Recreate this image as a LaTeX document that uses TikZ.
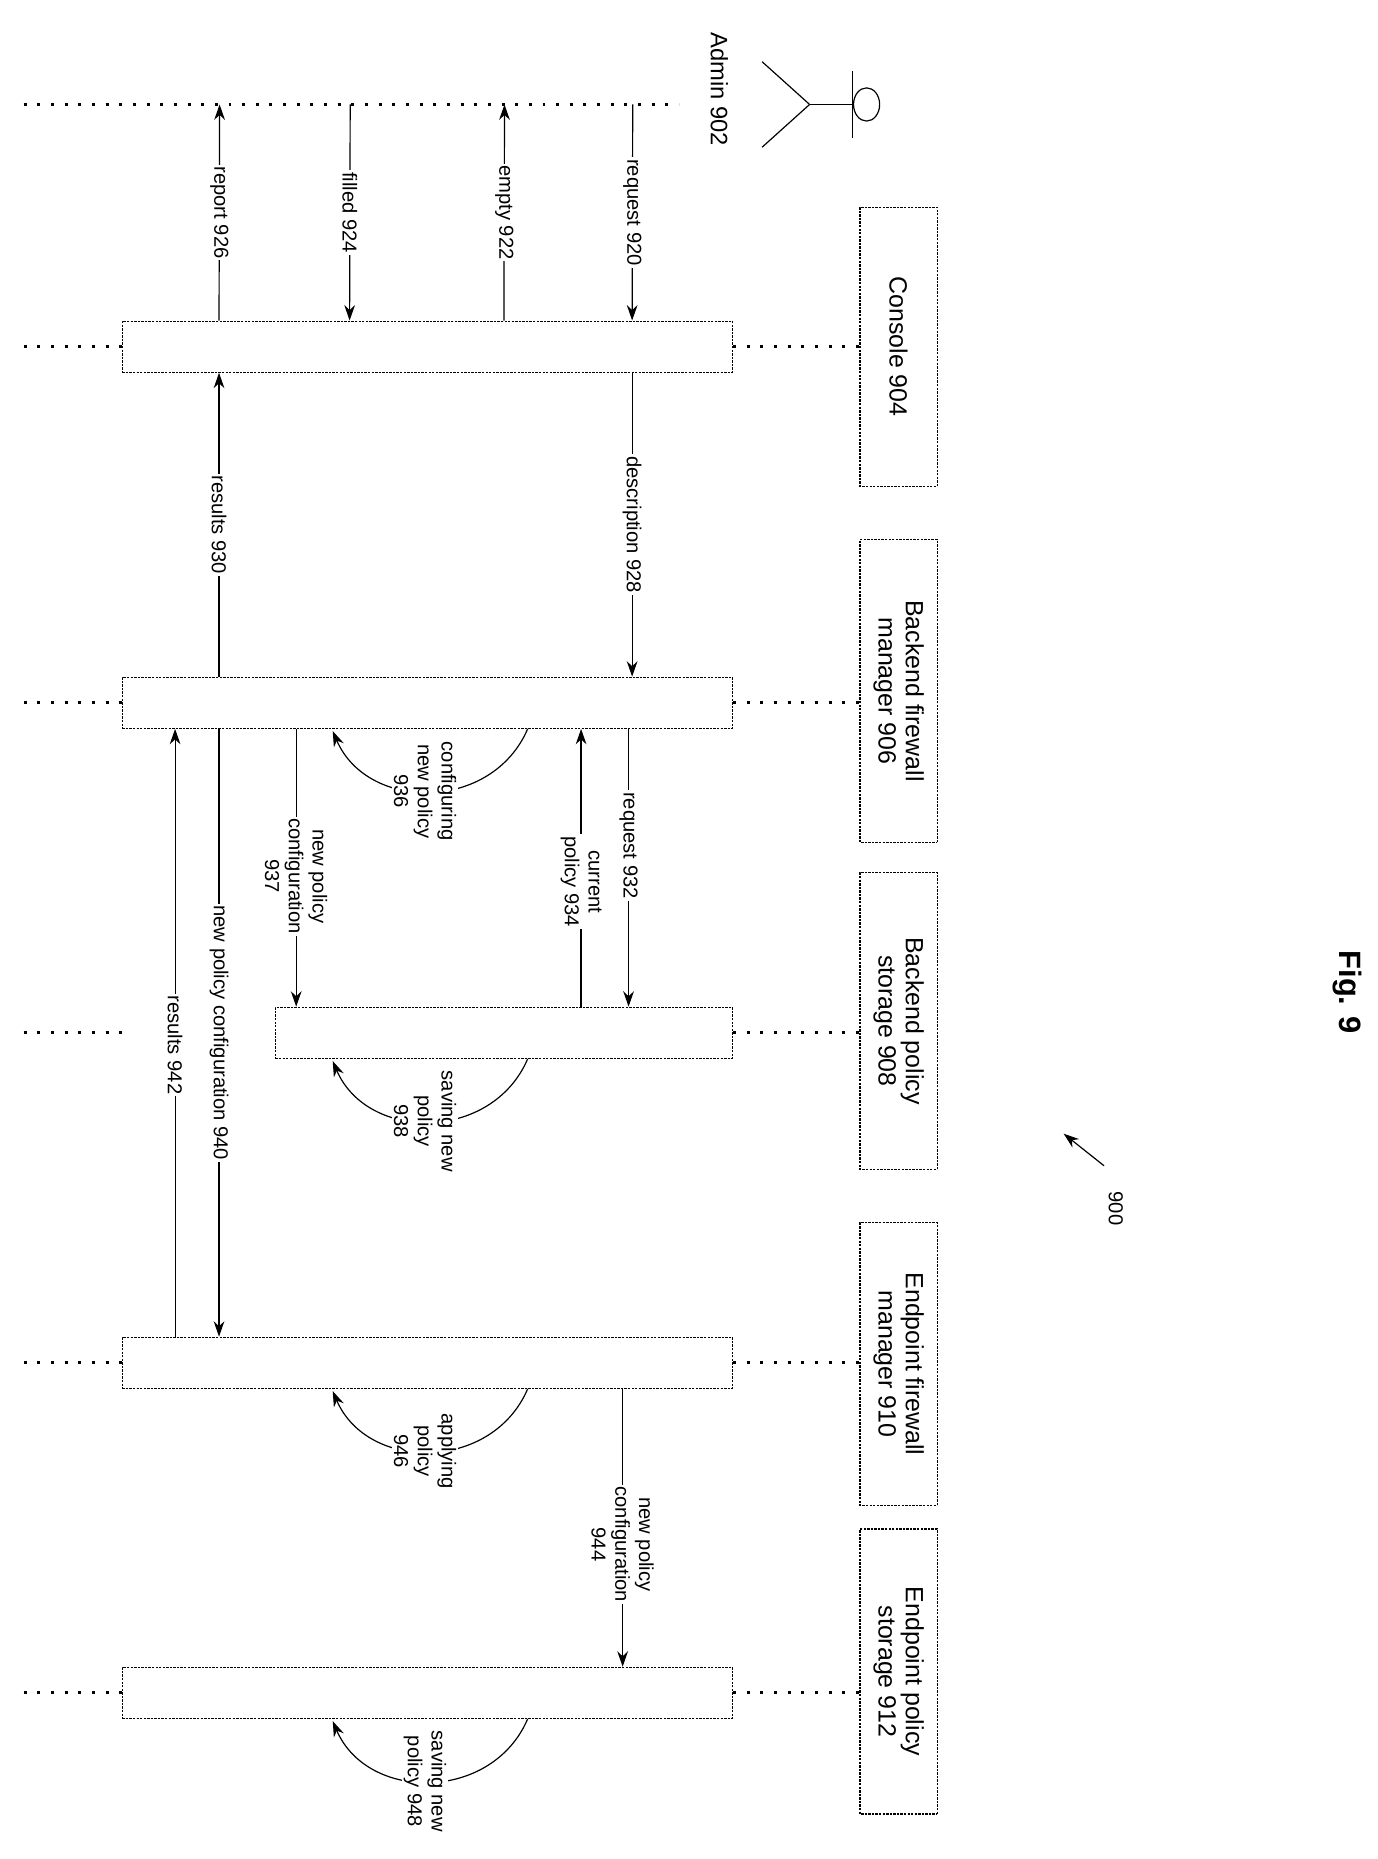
\documentclass[tikz,border=0pt]{standalone}
\usepackage{fontspec}
\setmainfont{Liberation Sans}
\usetikzlibrary{arrows.meta,calc}
\tikzset{every picture/.style={line width=1pt}}
\tikzset{
  act/.style={draw, dash pattern=on 2pt off 1pt, minimum height=43pt, inner sep=0pt},
  hdr/.style={draw, dash pattern=on 2pt off 1pt, minimum height=65pt, rotate=-90, align=center, font=\fontsize{21}{23}\selectfont},
  life/.style={line width=2.5pt, dash pattern=on 2.5pt off 9pt},
  msg/.style={-{Stealth[length=13pt,width=9pt]}},
  lbl/.style={fill=white, inner sep=1.5pt, rotate=-90, align=center, font=\fontsize{17}{20}\selectfont},
  loop/.style={msg, shorten >=2pt},
}
\begin{document}
\begin{tikzpicture}[x=1pt,y=-1pt]
\useasboundingbox (0,0) rectangle (1160,1566);

% Header boxes
\node[hdr, minimum width=235pt] (hcon) at (757,292) {Console 904};
\node[hdr, minimum width=255pt] (hbfm) at (757,582) {Backend firewall\\manager 906};
\node[hdr, minimum width=250pt] (hbps) at (757,860) {Backend policy\\storage 908};
\node[hdr, minimum width=238pt] (hefm) at (757,1149) {Endpoint firewall\\manager 910};
\node[hdr, minimum width=240pt] (heps) at (757,1408) {Endpoint policy\\storage 912};

% Activation boxes
\node[act, minimum width=514pt] (con) at (360,292) {};
\node[act, minimum width=514pt] (bfm) at (360,592) {};
\node[act, minimum width=385pt] (bps) at (424.5,870) {};
\node[act, minimum width=514pt] (efm) at (360,1148) {};
\node[act, minimum width=514pt] (eps) at (360,1426) {};

% Admin actor
\draw (730,88) ellipse (11 and 14);
\draw (719,88) -- (682,88);
\draw (718,60) -- (718,116);
\draw (682,88) -- (642,52);
\draw (682,88) -- (642,124);
\node[rotate=-90, font=\fontsize{20}{22}\selectfont] (adm) at (606,75) {Admin 902};
\coordinate (al) at (103,88);

% Lifelines
\draw[life] (20,88) -- (572,88);
\foreach \b/\h in {con/hcon, bfm/hbfm, efm/hefm, eps/heps}{
  \draw[life] (20,0 |- \b.west) -- (\b.west);
  \draw[life] (\b.east) -- (\h.south |- \b.east);
}
\draw[life] (20,0 |- bps.west) -- (103,0 |- bps.west);
\draw[life] (bps.east) -- (hbps.south |- bps.east);

% Admin <-> Console
\draw[msg] ([xshift=430pt]al) -- node[lbl]{request 920} ([xshift=430pt]con.north west);
\draw[msg] ([xshift=322pt]con.north west) -- node[lbl]{empty 922} ([xshift=322pt]al);
\draw[msg] ([xshift=192pt]al) -- node[lbl]{filled 924} ([xshift=192pt]con.north west);
\draw[msg] ([xshift=82pt]con.north west) -- node[lbl]{report 926} ([xshift=82pt]al);

% Console <-> Backend firewall manager
\draw[msg] ([xshift=430pt]con.south west) -- node[lbl]{description 928} ([xshift=430pt]bfm.north west);
\draw[msg] ([xshift=82pt]bfm.north west) -- node[lbl]{results 930} ([xshift=82pt]con.south west);

% Backend firewall manager <-> Backend policy storage
\draw[msg] ([xshift=427pt]bfm.south west) -- node[lbl, pos=0.42]{request 932} ([xshift=427pt]bfm.south west |- bps.north);
\draw[msg] ([xshift=387pt]bfm.south west |- bps.north) -- node[lbl, pos=0.45]{current\\policy 934} ([xshift=387pt]bfm.south west);
\draw[loop] ([xshift=342pt]bfm.south west) .. controls +(-30,70) and +(30,70) .. node[lbl, pos=0.5, yshift=-4pt]{configuring\\new policy\\936} ([xshift=177pt]bfm.south west);
\draw[msg] ([xshift=147pt]bfm.south west) -- node[lbl, pos=0.53]{new policy\\configuration\\937} ([xshift=147pt]bfm.south west |- bps.north);
\draw[loop] ([xshift=213pt]bps.south west) .. controls +(-30,70) and +(30,70) .. node[lbl, pos=0.5, yshift=-4pt]{saving new\\policy\\938} ([xshift=48pt]bps.south west);

% Backend firewall manager <-> Endpoint firewall manager
\draw[msg] ([xshift=82pt]bfm.south west) -- node[lbl, pos=0.5]{new policy configuration 940} ([xshift=82pt]efm.north west);
\draw[msg] ([xshift=45pt]efm.north west) -- node[lbl, pos=0.48]{results 942} ([xshift=45pt]bfm.south west);
\draw[loop] ([xshift=342pt]efm.south west) .. controls +(-30,70) and +(30,70) .. node[lbl, pos=0.5, yshift=-4pt]{applying\\policy\\946} ([xshift=177pt]efm.south west);

% Endpoint firewall manager -> Endpoint policy storage
\draw[msg] ([xshift=422pt]efm.south west) -- node[lbl, pos=0.5, xshift=14pt]{new policy\\configuration\\944} ([xshift=422pt]eps.north west);
\draw[loop] ([xshift=342pt]eps.south west) .. controls +(-30,70) and +(30,70) .. node[lbl, pos=0.5, yshift=-4pt]{saving new\\policy 948} ([xshift=177pt]eps.south west);

% Figure label
\node[rotate=-90, font=\fontsize{17}{20}\selectfont] (n900) at (940,1018) {900};
\draw[msg] (930,982) -- (896,955);
\node[rotate=-90, font=\bfseries\fontsize{26}{28}\selectfont] (fig) at (1135,836) {Fig. 9};
\end{tikzpicture}
\end{document}
